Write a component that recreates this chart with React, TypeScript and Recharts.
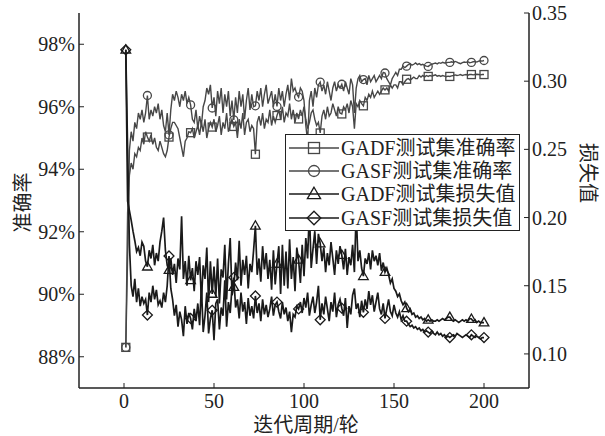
import { LineChart, Line, XAxis, YAxis, Legend } from 'recharts'

const gadfAcc = [
  88.3, 92.6, 93.8, 94.2, 94.0, 94.5, 94.4, 94.7, 94.6, 95.0, 94.8, 95.2, 95.03, 94.9, 95.1, 94.8, 95.0, 94.7, 94.6, 94.9,
  94.7, 94.5, 94.4, 94.6, 95.03, 95.3, 95.5, 95.5, 95.4, 95.3, 95.0, 94.7, 94.4, 94.9, 95.0, 95.2, 95.17, 95.3, 95.0, 95.2,
  95.4, 95.1, 95.5, 95.2, 95.6, 95.0, 95.3, 95.5, 95.35, 95.6, 95.2, 95.4, 95.7, 95.1, 95.5, 95.3, 95.8, 95.2, 95.4, 95.6,
  95.37, 95.5, 95.0, 95.6, 95.3, 95.8, 95.1, 95.5, 95.6, 95.2, 95.4, 95.3, 94.48, 95.5, 95.7, 95.4, 95.8, 95.3, 95.6, 95.5,
  95.9, 95.4, 95.7, 95.5, 95.72, 95.9, 95.6, 96.0, 95.5, 95.8, 95.7, 96.1, 95.6, 95.9, 95.5, 95.8, 95.61, 95.9, 95.7, 96.0,
  95.6, 95.3, 95.5, 95.8, 95.9, 95.6, 95.4, 95.5, 95.16, 95.7, 95.9, 95.6, 96.0, 95.7, 95.8, 96.1, 95.9, 95.7, 96.0, 95.8,
  95.77, 96.0, 95.9, 96.1, 95.8, 96.2, 96.0, 95.3, 96.1, 96.0, 96.2, 96.1, 96.03, 96.3, 96.2, 96.4, 96.3, 96.5, 96.3, 96.4,
  96.5, 96.4, 96.5, 96.6, 96.54, 96.6, 96.5, 96.7, 96.6, 96.7, 96.7, 96.6, 96.8, 96.8, 96.7, 96.8, 96.88, 96.9, 96.85, 96.9,
  96.95, 96.9, 96.9, 97.0, 96.95, 97.0, 96.95, 97.0, 96.97, 97.0, 96.98, 97.0, 97.02, 96.98, 97.0, 96.97, 97.0, 96.98, 96.96, 96.98,
  96.97, 96.99, 97.0, 97.02, 97.0, 97.01, 97.03, 97.0, 97.02, 97.03, 97.01, 97.03, 97.03, 97.02, 97.03, 97.04, 97.03, 97.02, 97.03, 97.03,
]

const gasfAcc = [
  88.3, 91.2, 94.6, 95.2, 94.9, 95.5, 95.3, 95.8, 95.6, 95.9, 95.5, 95.8, 96.36, 95.6, 95.9, 95.7, 96.0, 95.8, 96.1, 95.6,
  95.9, 95.4, 95.2, 95.8, 95.1, 95.9, 96.4, 96.2, 96.5, 96.3, 96.0, 96.4, 96.2, 96.5, 96.1, 96.3, 96.06, 95.6, 95.5, 95.9,
  95.3, 95.7, 95.4, 96.0, 96.2, 96.6, 96.4, 96.7, 95.96, 96.3, 95.7, 96.5, 96.1, 96.6, 95.8, 96.4, 96.0, 96.5, 95.7, 96.2,
  95.58, 96.3, 95.8, 96.5, 96.0, 96.4, 95.6, 96.2, 96.6, 95.9, 96.4, 96.0, 96.03, 96.5, 96.2, 96.6, 96.0, 96.4, 96.7, 96.1,
  96.3, 96.5, 96.0, 96.4, 96.01, 96.6, 96.2, 96.5, 96.0, 96.4, 96.7, 96.2, 96.9, 96.5, 96.6, 96.4, 96.31, 96.6, 96.5, 96.2,
  95.4, 94.9, 96.2, 96.5, 96.0, 96.6, 96.3, 96.7, 96.79, 96.5, 96.7, 96.4, 96.8, 96.5, 96.2, 96.6, 96.8, 96.5, 96.7, 96.6,
  96.72, 96.5, 96.8, 96.6, 96.4, 96.9, 96.7, 95.8, 96.6, 96.9, 97.0, 96.8, 96.87, 96.9, 96.7, 97.0, 96.8, 96.9, 97.0, 96.8,
  96.9, 97.0, 96.9, 97.1, 97.08, 96.9, 96.8, 96.7, 96.9, 97.0, 97.1, 97.0, 97.2, 97.2, 97.3, 97.25, 97.3, 97.35, 97.38, 97.33,
  97.36, 97.4, 97.35, 97.38, 97.34, 97.36, 97.32, 97.3, 97.29, 97.33, 97.36, 97.38, 97.4, 97.37, 97.41, 97.39, 97.42, 97.4, 97.41, 97.42,
  97.42, 97.44, 97.42, 97.45, 97.43, 97.4, 97.38, 97.41, 97.43, 97.42, 97.44, 97.41, 97.42, 97.44, 97.45, 97.43, 97.46, 97.47, 97.46, 97.48,
]

const gadfLoss = [
  0.323, 0.212, 0.205, 0.198, 0.19, 0.183, 0.175, 0.178, 0.172, 0.182, 0.179, 0.168, 0.164, 0.176, 0.17, 0.18, 0.165, 0.174, 0.168, 0.182,
  0.19, 0.2, 0.176, 0.165, 0.1615, 0.17, 0.158, 0.166, 0.152, 0.17, 0.162, 0.201, 0.155, 0.168, 0.15, 0.172, 0.154, 0.163, 0.146, 0.168,
  0.158, 0.171, 0.139, 0.165, 0.155, 0.178, 0.138, 0.168, 0.144, 0.164, 0.142, 0.17, 0.137, 0.162, 0.156, 0.18, 0.14, 0.166, 0.185, 0.143,
  0.149, 0.167, 0.154, 0.183, 0.15, 0.169, 0.158, 0.172, 0.148, 0.166, 0.16, 0.176, 0.194, 0.158, 0.17, 0.153, 0.179, 0.162, 0.174, 0.155,
  0.169, 0.147, 0.176, 0.151, 0.166, 0.179, 0.144, 0.18, 0.15, 0.175, 0.148, 0.184, 0.155, 0.171, 0.146, 0.178, 0.169, 0.152, 0.18, 0.157,
  0.185, 0.17, 0.205, 0.163, 0.177, 0.19, 0.166, 0.188, 0.181, 0.168, 0.178, 0.16, 0.174, 0.165, 0.182, 0.17, 0.158, 0.176, 0.166, 0.179,
  0.1725, 0.162, 0.177, 0.158, 0.171, 0.165, 0.18, 0.16, 0.205, 0.168, 0.176, 0.163, 0.157, 0.17, 0.166, 0.174, 0.162, 0.176, 0.168, 0.172,
  0.165, 0.174, 0.161, 0.167, 0.16, 0.163, 0.158, 0.152, 0.155, 0.148, 0.146, 0.142, 0.144, 0.139, 0.136, 0.138, 0.1335, 0.131, 0.133, 0.129,
  0.13, 0.127, 0.128, 0.126, 0.127, 0.125, 0.126, 0.124, 0.125, 0.124, 0.125, 0.124, 0.124, 0.125, 0.124, 0.125, 0.126, 0.125, 0.126, 0.127,
  0.127, 0.125, 0.124, 0.125, 0.124, 0.123, 0.124, 0.125, 0.124, 0.125, 0.124, 0.126, 0.1256, 0.124, 0.125, 0.123, 0.124, 0.123, 0.123, 0.123,
]

const gasfLoss = [
  0.323, 0.25, 0.18, 0.15, 0.142, 0.155, 0.138, 0.148, 0.135, 0.142, 0.137, 0.14, 0.1285, 0.145, 0.138, 0.15, 0.14, 0.147, 0.136, 0.139,
  0.134, 0.145, 0.138, 0.15, 0.1718, 0.148, 0.14, 0.128, 0.136, 0.12, 0.131, 0.125, 0.113, 0.135, 0.122, 0.13, 0.126, 0.118, 0.133, 0.124,
  0.137, 0.121, 0.15, 0.116, 0.128, 0.145, 0.115, 0.126, 0.132, 0.11, 0.137, 0.14, 0.118, 0.134, 0.128, 0.154, 0.12, 0.138, 0.13, 0.149,
  0.156, 0.134, 0.14, 0.126, 0.145, 0.131, 0.138, 0.122, 0.141, 0.128, 0.135, 0.126, 0.1425, 0.13, 0.137, 0.124, 0.14, 0.129, 0.136, 0.127,
  0.133, 0.142, 0.128, 0.136, 0.138, 0.131, 0.126, 0.138, 0.129, 0.134, 0.124, 0.131, 0.116, 0.129, 0.127, 0.135, 0.133, 0.138, 0.13, 0.141,
  0.134, 0.145, 0.128, 0.136, 0.142, 0.13, 0.138, 0.15, 0.125, 0.137, 0.129, 0.142, 0.133, 0.124, 0.138, 0.131, 0.145, 0.127, 0.136, 0.14,
  0.1335, 0.128, 0.141, 0.119, 0.135, 0.129, 0.143, 0.148, 0.133, 0.137, 0.127, 0.139, 0.1305, 0.14, 0.133, 0.146, 0.136, 0.143, 0.131, 0.138,
  0.145, 0.133, 0.129, 0.137, 0.126, 0.133, 0.14, 0.131, 0.128, 0.136, 0.13, 0.127, 0.131, 0.125, 0.128, 0.124, 0.124, 0.122, 0.12, 0.121,
  0.119, 0.12, 0.118, 0.119, 0.117, 0.118, 0.116, 0.117, 0.116, 0.115, 0.117, 0.115, 0.114, 0.116, 0.114, 0.115, 0.113, 0.114, 0.112, 0.113,
  0.112, 0.113, 0.114, 0.113, 0.115, 0.114, 0.113, 0.112, 0.113, 0.114, 0.113, 0.112, 0.114, 0.113, 0.112, 0.113, 0.112, 0.111, 0.112, 0.112,
]

const seriesNames = ['GADF测试集准确率', 'GASF测试集准确率', 'GADF测试集损失值', 'GASF测试集损失值']
const xTicks = [0, 50, 100, 150, 200]
const accTicks = [88, 90, 92, 94, 96, 98]
const lossTicks = [0.1, 0.15, 0.2, 0.25, 0.3, 0.35]
// epochs that carry a marker
const markerEpochs = [1, 13, 25, 37, 49, 61, 73, 85, 97, 109, 121, 133, 145, 157, 169, 181, 193, 200]

const data = gadfAcc.map((v, i) => ({
  epoch: i + 1,
  gadfAcc: v,
  gasfAcc: gasfAcc[i],
  gadfLoss: gadfLoss[i],
  gasfLoss: gasfLoss[i],
}))

const FONT = "'Liberation Serif', 'Times New Roman', 'Noto Sans CJK SC', serif"
const INK = '#222'
const ACC_COLOR = '#474747'
const LOSS_COLOR = '#1a1a1a'

type Shape = 'square' | 'circle' | 'triangle' | 'diamond'

const Marker = ({ shape, cx, cy, s, color }: { shape: Shape; cx: number; cy: number; s: number; color: string }) => {
  const common = { fill: 'none', stroke: color, strokeWidth: 1.3 }
  if (shape === 'square') return <rect x={cx - s / 2} y={cy - s / 2} width={s} height={s} {...common} />
  if (shape === 'circle') return <circle cx={cx} cy={cy} r={s / 2} {...common} />
  if (shape === 'triangle')
    return <polygon points={`${cx},${cy - s * 0.62} ${cx - s * 0.6},${cy + s * 0.42} ${cx + s * 0.6},${cy + s * 0.42}`} {...common} />
  return <polygon points={`${cx},${cy - s * 0.62} ${cx + s * 0.62},${cy} ${cx},${cy + s * 0.62} ${cx - s * 0.62},${cy}`} {...common} />
}

const makeDot = (shape: Shape, color: string) => (props: any) => {
  const { cx, cy, payload, index } = props
  if (!markerEpochs.includes(payload.epoch)) return <g key={index} />
  return (
    <g key={index}>
      <Marker shape={shape} cx={cx} cy={cy} s={8} color={color} />
    </g>
  )
}

const series = [
  { key: 'gadfAcc', axis: 'acc', shape: 'square' as Shape, color: ACC_COLOR, width: 1.4 },
  { key: 'gasfAcc', axis: 'acc', shape: 'circle' as Shape, color: ACC_COLOR, width: 1.4 },
  { key: 'gadfLoss', axis: 'loss', shape: 'triangle' as Shape, color: LOSS_COLOR, width: 1.7 },
  { key: 'gasfLoss', axis: 'loss', shape: 'diamond' as Shape, color: LOSS_COLOR, width: 1.7 },
]

const tickStyle = { fill: INK, fontSize: 20, fontFamily: FONT }
const axisLine = { stroke: INK, strokeWidth: 1.5 }

const LegendBox = () => (
  <div style={{ width: 235, height: 97, boxSizing: 'border-box', border: `1.5px solid ${INK}`, background: '#fff', paddingTop: 1 }}>
    {series.map((s, i) => (
      <div key={s.key} style={{ display: 'flex', alignItems: 'center', height: 23.3 }}>
        <svg width={55} height={22} style={{ display: 'block' }}>
          <line x1={3} x2={53} y1={11} y2={11} stroke={s.color} strokeWidth={s.width} />
          <Marker shape={s.shape} cx={28} cy={11} s={11} color={s.color} />
        </svg>
        <span style={{ fontSize: 20, fontFamily: FONT, color: INK, lineHeight: '22px', whiteSpace: 'nowrap' }}>{seriesNames[i]}</span>
      </div>
    ))}
  </div>
)

export default function App() {
  return (
    <div style={{ position: 'absolute', left: 0, top: 0, width: 605, height: 436, background: '#fff' }}>
      <LineChart width={605} height={436} data={data} margin={{ top: 13, right: 0, bottom: 0, left: 0 }}>
        <XAxis
          dataKey="epoch"
          type="number"
          domain={[-25, 225]}
          ticks={xTicks}
          allowDataOverflow
          height={48}
          tick={tickStyle}
          tickSize={-5}
          tickMargin={11}
          tickLine={{ stroke: INK }}
          axisLine={axisLine}
          label={{
            content: (p: any) => {
              const vb = p.viewBox
              return (
                <text x={vb.x + vb.width / 2 + 2} y={vb.y + 37} textAnchor="middle" dominantBaseline="central" fill={INK} fontSize={20} fontFamily={FONT}>
                  迭代周期/轮
                </text>
              )
            },
          }}
        />
        <XAxis xAxisId="top" orientation="top" type="number" domain={[-25, 225]} height={0} tick={false} tickLine={false} axisLine={axisLine} />
        <YAxis
          yAxisId="acc"
          domain={[87, 99]}
          ticks={accTicks}
          allowDataOverflow
          width={79}
          tick={tickStyle}
          tickFormatter={(v: number) => `${v}%`}
          tickSize={-5}
          tickMargin={9}
          tickLine={{ stroke: INK }}
          axisLine={axisLine}
          label={{
            content: (p: any) => {
              const vb = p.viewBox
              const x = vb.x + 23
              const y = vb.y + vb.height / 2 + 2
              return (
                <text x={x} y={y} transform={`rotate(-90 ${x} ${y})`} textAnchor="middle" dominantBaseline="central" fill={INK} fontSize={20} fontFamily={FONT}>
                  准确率
                </text>
              )
            },
          }}
        />
        <YAxis
          yAxisId="loss"
          orientation="right"
          domain={[0.075, 0.35]}
          ticks={lossTicks}
          allowDataOverflow
          width={76}
          tick={tickStyle}
          tickFormatter={(v: number) => v.toFixed(2)}
          tickSize={-5}
          tickMargin={8}
          tickLine={{ stroke: INK }}
          axisLine={axisLine}
          label={{
            content: (p: any) => {
              const vb = p.viewBox
              const x = vb.x + 59
              const y = vb.y + 160
              return (
                <text x={x} y={y} transform={`rotate(90 ${x} ${y})`} textAnchor="middle" dominantBaseline="central" fill={INK} fontSize={20} fontFamily={FONT}>
                  损失值
                </text>
              )
            },
          }}
        />
        {series.map((s) => (
          <Line
            key={s.key}
            yAxisId={s.axis}
            dataKey={s.key}
            type="linear"
            stroke={s.color}
            strokeWidth={s.width}
            dot={makeDot(s.shape, s.color)}
            activeDot={false}
            isAnimationActive={false}
          />
        ))}
        <Legend
          layout="vertical"
          align="center"
          verticalAlign="middle"
          wrapperStyle={{ left: 285, top: 134, width: 235, height: 97 }}
          content={() => <LegendBox />}
        />
      </LineChart>
    </div>
  )
}
